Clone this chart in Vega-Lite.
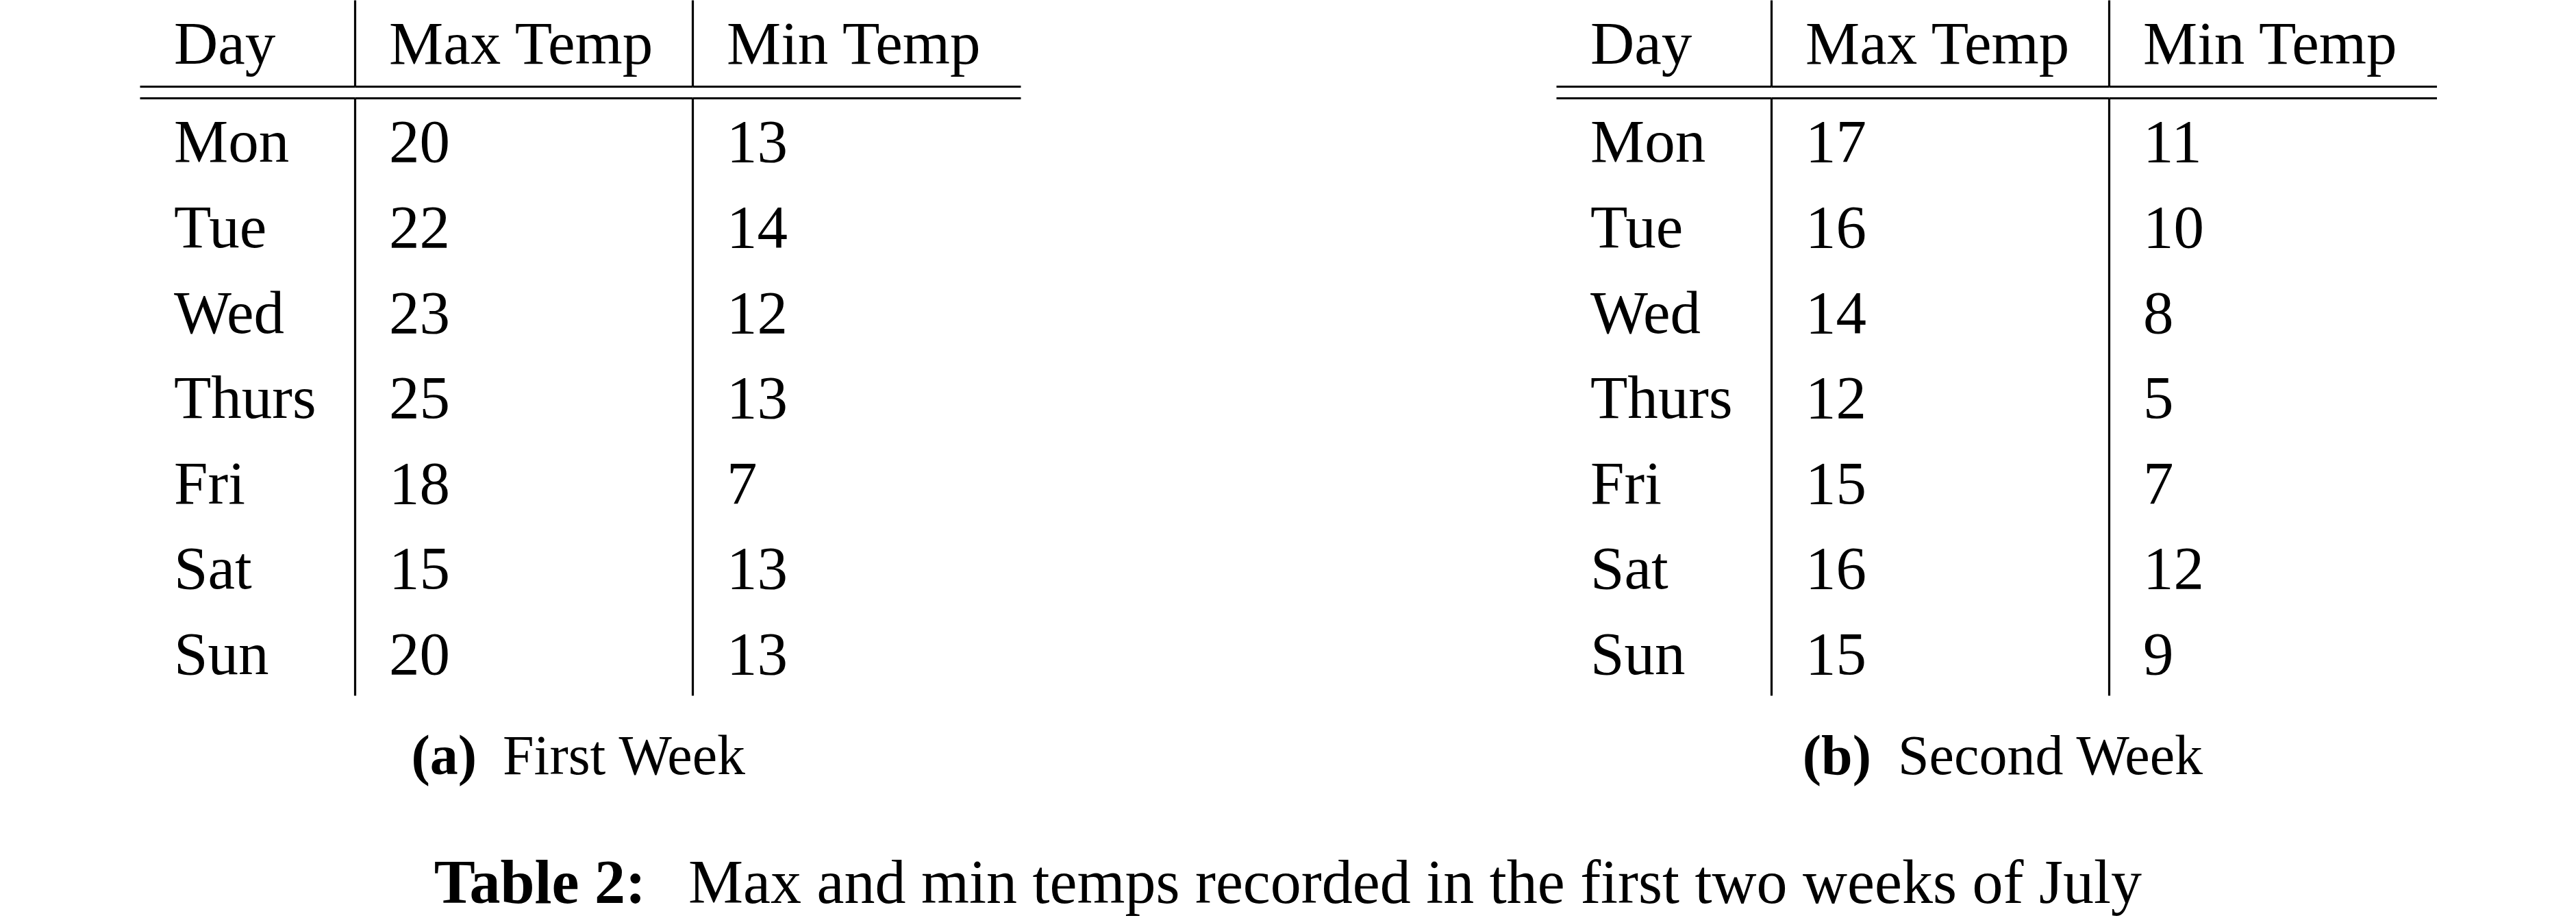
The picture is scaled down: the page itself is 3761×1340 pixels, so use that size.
{
  "$schema": "https://vega.github.io/schema/vega-lite/v6.json",
  "usermeta": {"embedOptions": {"actions": false}},
  "padding": {"left": 204, "top": 0, "right": 0, "bottom": 0},
  "background": "white",
  "datasets": {
    "temps": [
      {"week": "First", "Day": "Mon", "Max Temp": 20, "Min Temp": 13},
      {"week": "First", "Day": "Tue", "Max Temp": 22, "Min Temp": 14},
      {"week": "First", "Day": "Wed", "Max Temp": 23, "Min Temp": 12},
      {"week": "First", "Day": "Thurs", "Max Temp": 25, "Min Temp": 13},
      {"week": "First", "Day": "Fri", "Max Temp": 18, "Min Temp": 7},
      {"week": "First", "Day": "Sat", "Max Temp": 15, "Min Temp": 13},
      {"week": "First", "Day": "Sun", "Max Temp": 20, "Min Temp": 13},
      {"week": "Second", "Day": "Mon", "Max Temp": 17, "Min Temp": 11},
      {"week": "Second", "Day": "Tue", "Max Temp": 16, "Min Temp": 10},
      {"week": "Second", "Day": "Wed", "Max Temp": 14, "Min Temp": 8},
      {"week": "Second", "Day": "Thurs", "Max Temp": 12, "Min Temp": 5},
      {"week": "Second", "Day": "Fri", "Max Temp": 15, "Min Temp": 7},
      {"week": "Second", "Day": "Sat", "Max Temp": 16, "Min Temp": 12},
      {"week": "Second", "Day": "Sun", "Max Temp": 15, "Min Temp": 9}
    ],
    "captions": [
      {"week": "First", "tag": "(a)", "name": "First Week"},
      {"week": "Second", "tag": "(b)", "name": "Second Week"}
    ],
    "tableCaption": [
      {"tag": "Table 2:", "name": "Max and min temps recorded in the first two weeks of July"}
    ]
  },
  "spacing": 0,
  "vconcat": [
    {
      "spacing": 782,
      "hconcat": [
        {
          "spacing": 0,
          "vconcat": [
            {
              "spacing": 0,
              "hconcat": [
                {
                  "spacing": 17,
                  "vconcat": [
                    {
                      "width": 314, "height": 126,
                      "data": {"name": "temps"},
                      "transform": [{"filter": "datum.week === 'First' && datum.Day === 'Mon'"}, {"fold": ["Day"], "as": ["col", "val"]}],
                      "mark": {"type": "text", "align": "left", "baseline": "alphabetic", "dx": 50},
                      "encoding": {
                        "x": {"field": "col", "type": "nominal", "bandPosition": 0, "scale": {"type": "band", "paddingInner": 0, "paddingOuter": 0}, "axis": {"orient": "bottom", "title": null}},
                        "y": {"field": "col", "type": "nominal", "bandPosition": 0.74, "scale": {"type": "band", "paddingInner": 0, "paddingOuter": 0}, "axis": null},
                        "text": {"field": "col", "type": "nominal"}
                      }
                    },
                    {
                      "width": 314, "height": 872,
                      "data": {"name": "temps"},
                      "transform": [{"filter": "datum.week === 'First'"}, {"fold": ["Day"], "as": ["col", "val"]}],
                      "mark": {"type": "text", "align": "left", "baseline": "alphabetic", "dx": 50},
                      "encoding": {
                        "x": {"field": "col", "type": "nominal", "bandPosition": 0, "scale": {"type": "band", "paddingInner": 0, "paddingOuter": 0}, "axis": {"orient": "top", "title": null}},
                        "y": {"field": "Day", "type": "nominal", "bandPosition": 0.75, "scale": {"type": "band", "domain": ["Mon", "Tue", "Wed", "Thurs", "Fri", "Sat", "Sun"], "paddingInner": 0, "paddingOuter": 0}, "axis": null},
                        "text": {"field": "val", "type": "nominal"}
                      }
                    }
                  ]
                },
                {
                  "spacing": 17,
                  "vconcat": [
                    {
                      "width": 493, "height": 126,
                      "data": {"name": "temps"},
                      "transform": [{"filter": "datum.week === 'First' && datum.Day === 'Mon'"}, {"fold": ["Max Temp"], "as": ["col", "val"]}],
                      "mark": {"type": "text", "align": "left", "baseline": "alphabetic", "dx": 50},
                      "encoding": {
                        "x": {"field": "col", "type": "nominal", "bandPosition": 0, "scale": {"type": "band", "paddingInner": 0, "paddingOuter": 0}, "axis": {"orient": "bottom", "title": null}},
                        "y": {"field": "col", "type": "nominal", "bandPosition": 0.74, "scale": {"type": "band", "paddingInner": 0, "paddingOuter": 0}, "axis": {"orient": "left", "title": null}},
                        "text": {"field": "col", "type": "nominal"}
                      }
                    },
                    {
                      "width": 493, "height": 872,
                      "data": {"name": "temps"},
                      "transform": [{"filter": "datum.week === 'First'"}, {"fold": ["Max Temp"], "as": ["col", "val"]}],
                      "mark": {"type": "text", "align": "left", "baseline": "alphabetic", "dx": 50},
                      "encoding": {
                        "x": {"field": "col", "type": "nominal", "bandPosition": 0, "scale": {"type": "band", "paddingInner": 0, "paddingOuter": 0}, "axis": {"orient": "top", "title": null}},
                        "y": {"field": "Day", "type": "nominal", "bandPosition": 0.75, "scale": {"type": "band", "domain": ["Mon", "Tue", "Wed", "Thurs", "Fri", "Sat", "Sun"], "paddingInner": 0, "paddingOuter": 0}, "axis": {"orient": "left", "title": null}},
                        "text": {"field": "val", "type": "nominal"}
                      }
                    }
                  ]
                },
                {
                  "spacing": 17,
                  "vconcat": [
                    {
                      "width": 479, "height": 126,
                      "data": {"name": "temps"},
                      "transform": [{"filter": "datum.week === 'First' && datum.Day === 'Mon'"}, {"fold": ["Min Temp"], "as": ["col", "val"]}],
                      "mark": {"type": "text", "align": "left", "baseline": "alphabetic", "dx": 50},
                      "encoding": {
                        "x": {"field": "col", "type": "nominal", "bandPosition": 0, "scale": {"type": "band", "paddingInner": 0, "paddingOuter": 0}, "axis": {"orient": "bottom", "title": null}},
                        "y": {"field": "col", "type": "nominal", "bandPosition": 0.74, "scale": {"type": "band", "paddingInner": 0, "paddingOuter": 0}, "axis": {"orient": "left", "title": null}},
                        "text": {"field": "col", "type": "nominal"}
                      }
                    },
                    {
                      "width": 479, "height": 872,
                      "data": {"name": "temps"},
                      "transform": [{"filter": "datum.week === 'First'"}, {"fold": ["Min Temp"], "as": ["col", "val"]}],
                      "mark": {"type": "text", "align": "left", "baseline": "alphabetic", "dx": 50},
                      "encoding": {
                        "x": {"field": "col", "type": "nominal", "bandPosition": 0, "scale": {"type": "band", "paddingInner": 0, "paddingOuter": 0}, "axis": {"orient": "top", "title": null}},
                        "y": {"field": "Day", "type": "nominal", "bandPosition": 0.75, "scale": {"type": "band", "domain": ["Mon", "Tue", "Wed", "Thurs", "Fri", "Sat", "Sun"], "paddingInner": 0, "paddingOuter": 0}, "axis": {"orient": "left", "title": null}},
                        "text": {"field": "val", "type": "nominal"}
                      }
                    }
                  ]
                }
              ]
            },
            {
              "width": 1286, "height": 230,
              "data": {"name": "captions"},
              "transform": [{"filter": "datum.week === 'First'"}],
              "layer": [
                {"mark": {"type": "text", "align": "right", "baseline": "alphabetic", "dx": -151, "fontSize": 82, "fontWeight": "bold"}, "encoding": {"text": {"field": "tag", "type": "nominal"}}},
                {"mark": {"type": "text", "align": "left", "baseline": "alphabetic", "dx": -113, "fontSize": 82}, "encoding": {"text": {"field": "name", "type": "nominal"}}}
              ]
            }
          ]
        },
        {
          "spacing": 0,
          "vconcat": [
            {
              "spacing": 0,
              "hconcat": [
                {
                  "spacing": 17,
                  "vconcat": [
                    {
                      "width": 314, "height": 126,
                      "data": {"name": "temps"},
                      "transform": [{"filter": "datum.week === 'Second' && datum.Day === 'Mon'"}, {"fold": ["Day"], "as": ["col", "val"]}],
                      "mark": {"type": "text", "align": "left", "baseline": "alphabetic", "dx": 50},
                      "encoding": {
                        "x": {"field": "col", "type": "nominal", "bandPosition": 0, "scale": {"type": "band", "paddingInner": 0, "paddingOuter": 0}, "axis": {"orient": "bottom", "title": null}},
                        "y": {"field": "col", "type": "nominal", "bandPosition": 0.74, "scale": {"type": "band", "paddingInner": 0, "paddingOuter": 0}, "axis": null},
                        "text": {"field": "col", "type": "nominal"}
                      }
                    },
                    {
                      "width": 314, "height": 872,
                      "data": {"name": "temps"},
                      "transform": [{"filter": "datum.week === 'Second'"}, {"fold": ["Day"], "as": ["col", "val"]}],
                      "mark": {"type": "text", "align": "left", "baseline": "alphabetic", "dx": 50},
                      "encoding": {
                        "x": {"field": "col", "type": "nominal", "bandPosition": 0, "scale": {"type": "band", "paddingInner": 0, "paddingOuter": 0}, "axis": {"orient": "top", "title": null}},
                        "y": {"field": "Day", "type": "nominal", "bandPosition": 0.75, "scale": {"type": "band", "domain": ["Mon", "Tue", "Wed", "Thurs", "Fri", "Sat", "Sun"], "paddingInner": 0, "paddingOuter": 0}, "axis": null},
                        "text": {"field": "val", "type": "nominal"}
                      }
                    }
                  ]
                },
                {
                  "spacing": 17,
                  "vconcat": [
                    {
                      "width": 493, "height": 126,
                      "data": {"name": "temps"},
                      "transform": [{"filter": "datum.week === 'Second' && datum.Day === 'Mon'"}, {"fold": ["Max Temp"], "as": ["col", "val"]}],
                      "mark": {"type": "text", "align": "left", "baseline": "alphabetic", "dx": 50},
                      "encoding": {
                        "x": {"field": "col", "type": "nominal", "bandPosition": 0, "scale": {"type": "band", "paddingInner": 0, "paddingOuter": 0}, "axis": {"orient": "bottom", "title": null}},
                        "y": {"field": "col", "type": "nominal", "bandPosition": 0.74, "scale": {"type": "band", "paddingInner": 0, "paddingOuter": 0}, "axis": {"orient": "left", "title": null}},
                        "text": {"field": "col", "type": "nominal"}
                      }
                    },
                    {
                      "width": 493, "height": 872,
                      "data": {"name": "temps"},
                      "transform": [{"filter": "datum.week === 'Second'"}, {"fold": ["Max Temp"], "as": ["col", "val"]}],
                      "mark": {"type": "text", "align": "left", "baseline": "alphabetic", "dx": 50},
                      "encoding": {
                        "x": {"field": "col", "type": "nominal", "bandPosition": 0, "scale": {"type": "band", "paddingInner": 0, "paddingOuter": 0}, "axis": {"orient": "top", "title": null}},
                        "y": {"field": "Day", "type": "nominal", "bandPosition": 0.75, "scale": {"type": "band", "domain": ["Mon", "Tue", "Wed", "Thurs", "Fri", "Sat", "Sun"], "paddingInner": 0, "paddingOuter": 0}, "axis": {"orient": "left", "title": null}},
                        "text": {"field": "val", "type": "nominal"}
                      }
                    }
                  ]
                },
                {
                  "spacing": 17,
                  "vconcat": [
                    {
                      "width": 479, "height": 126,
                      "data": {"name": "temps"},
                      "transform": [{"filter": "datum.week === 'Second' && datum.Day === 'Mon'"}, {"fold": ["Min Temp"], "as": ["col", "val"]}],
                      "mark": {"type": "text", "align": "left", "baseline": "alphabetic", "dx": 50},
                      "encoding": {
                        "x": {"field": "col", "type": "nominal", "bandPosition": 0, "scale": {"type": "band", "paddingInner": 0, "paddingOuter": 0}, "axis": {"orient": "bottom", "title": null}},
                        "y": {"field": "col", "type": "nominal", "bandPosition": 0.74, "scale": {"type": "band", "paddingInner": 0, "paddingOuter": 0}, "axis": {"orient": "left", "title": null}},
                        "text": {"field": "col", "type": "nominal"}
                      }
                    },
                    {
                      "width": 479, "height": 872,
                      "data": {"name": "temps"},
                      "transform": [{"filter": "datum.week === 'Second'"}, {"fold": ["Min Temp"], "as": ["col", "val"]}],
                      "mark": {"type": "text", "align": "left", "baseline": "alphabetic", "dx": 50},
                      "encoding": {
                        "x": {"field": "col", "type": "nominal", "bandPosition": 0, "scale": {"type": "band", "paddingInner": 0, "paddingOuter": 0}, "axis": {"orient": "top", "title": null}},
                        "y": {"field": "Day", "type": "nominal", "bandPosition": 0.75, "scale": {"type": "band", "domain": ["Mon", "Tue", "Wed", "Thurs", "Fri", "Sat", "Sun"], "paddingInner": 0, "paddingOuter": 0}, "axis": {"orient": "left", "title": null}},
                        "text": {"field": "val", "type": "nominal"}
                      }
                    }
                  ]
                }
              ]
            },
            {
              "width": 1286, "height": 230,
              "data": {"name": "captions"},
              "transform": [{"filter": "datum.week === 'Second'"}],
              "layer": [
                {"mark": {"type": "text", "align": "right", "baseline": "alphabetic", "dx": -183, "fontSize": 82, "fontWeight": "bold"}, "encoding": {"text": {"field": "tag", "type": "nominal"}}},
                {"mark": {"type": "text", "align": "left", "baseline": "alphabetic", "dx": -144, "fontSize": 82}, "encoding": {"text": {"field": "name", "type": "nominal"}}}
              ]
            }
          ]
        }
      ]
    },
    {
      "width": 3354, "height": 95,
      "data": {"name": "tableCaption"},
      "layer": [
        {"mark": {"type": "text", "align": "right", "baseline": "alphabetic", "dx": -938, "dy": 15, "fontSize": 90, "fontWeight": "bold"}, "encoding": {"text": {"field": "tag", "type": "nominal"}}},
        {"mark": {"type": "text", "align": "left", "baseline": "alphabetic", "dx": -876, "dy": 15, "fontSize": 90}, "encoding": {"text": {"field": "name", "type": "nominal"}}}
      ]
    }
  ],
  "config": {
    "font": "Liberation Serif",
    "view": {"stroke": null},
    "axis": {"domainColor": "#000", "domainWidth": 3.2, "ticks": false, "labels": false, "grid": false},
    "text": {"font": "Liberation Serif", "fontSize": 89, "color": "#000"}
  }
}
